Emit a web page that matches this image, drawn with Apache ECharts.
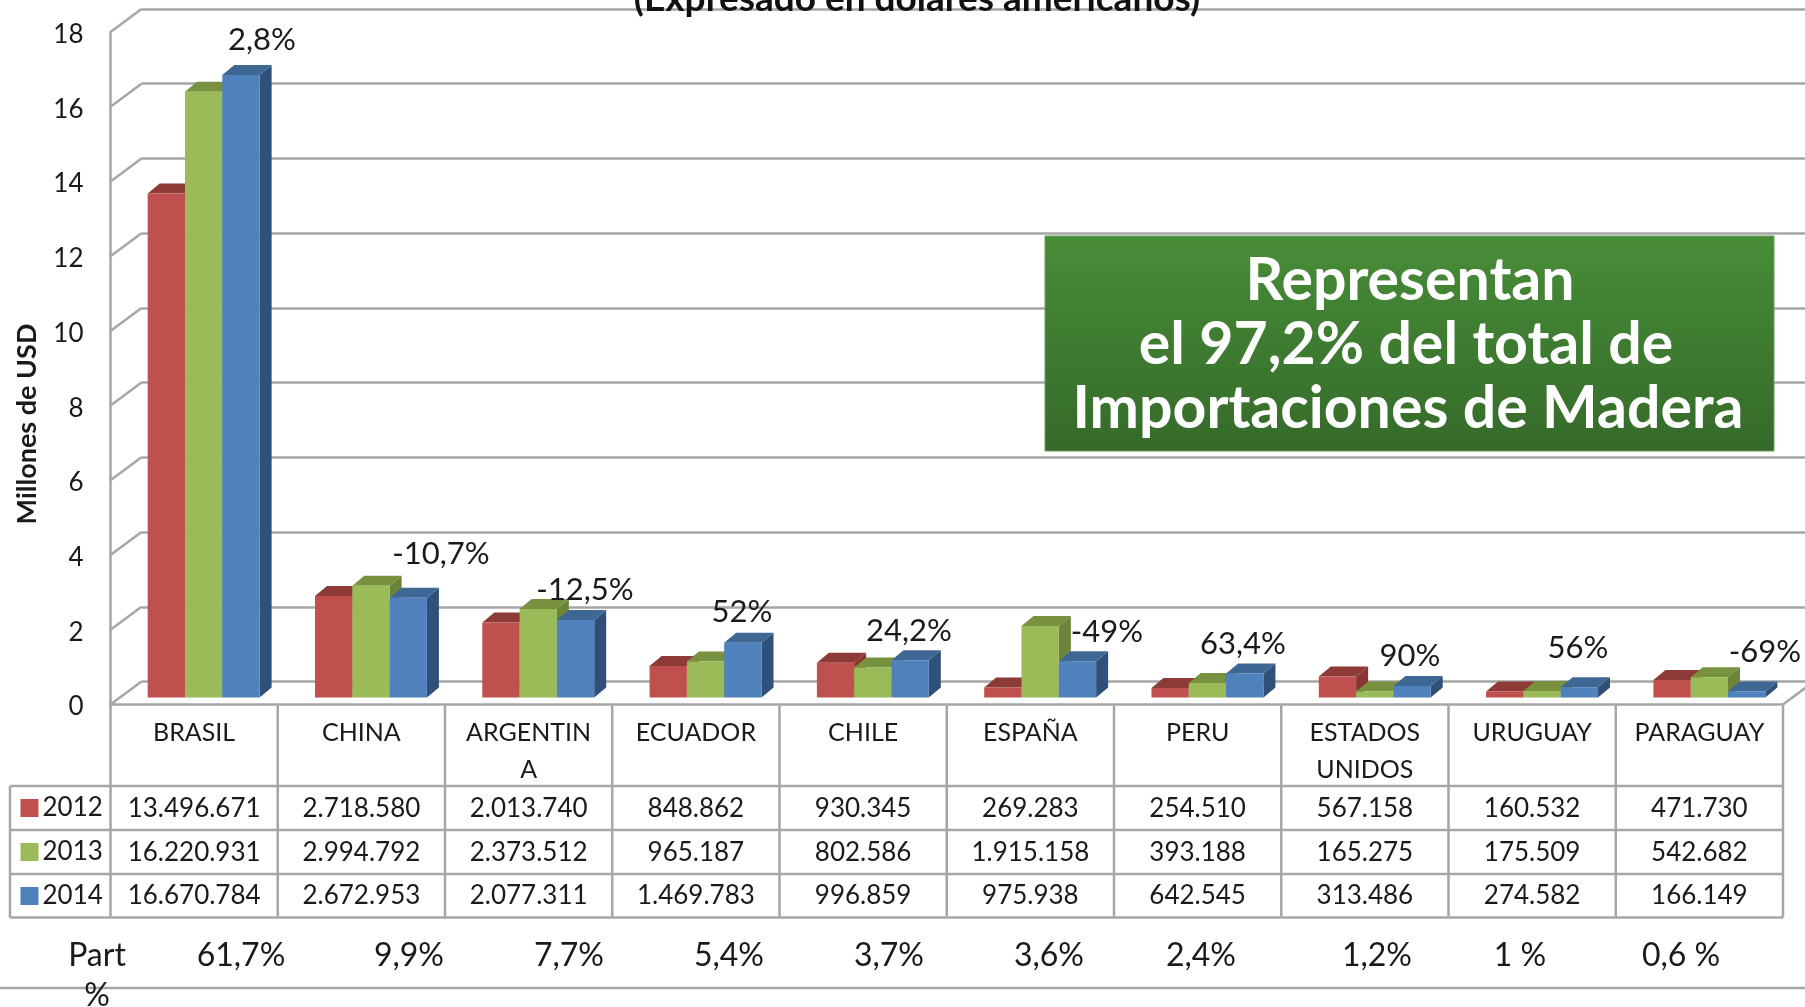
<!DOCTYPE html>
<html><head><meta charset="utf-8">
<style>html,body{margin:0;padding:0;background:#fff}#c{width:1805px;height:1007px}</style>
<script src="https://cdn.jsdelivr.net/npm/echarts@6/dist/echarts.min.js"></script>
</head><body><div id="c"></div>
<script>
const categories = ['BRASIL','CHINA','ARGENTIN\nA','ECUADOR','CHILE','ESPAÑA','PERU','ESTADOS\nUNIDOS','URUGUAY','PARAGUAY'];
const years = ['2012','2013','2014'];
const values2012 = [13496671,2718580,2013740,848862,930345,269283,254510,567158,160532,471730];
const values2013 = [16220931,2994792,2373512,965187,802586,1915158,393188,165275,175509,542682];
const values2014 = [16670784,2672953,2077311,1469783,996859,975938,642545,313486,274582,166149];
const growthLabels = ['2,8%','-10,7%','-12,5%','52%','24,2%','-49%','63,4%','90%','56%','-69%'];
const partLabels = ['61,7%','9,9%','7,7%','5,4%','3,7%','3,6%','2,4%','1,2%','1 %','0,6 %'];
const yTicks = [0,2,4,6,8,10,12,14,16,18];

// layout (pixels)
const growthPos = [[262,40],[441,554],[585,590],[742,612],[909,631],[1107,632],[1243,644],[1410,656],[1578,648],[1765,652]];
const partX = [241,409,569,729,889,1049,1201,1377,1520,1681];
const FONT = 'Lato';
const GRID = '#a6a6a6';
const palette = [
  {front:'#c0504d',top:'#8e3a37',side:'#8a3532'},
  {front:'#9bbb59',top:'#77913f',side:'#6c8439'},
  {front:'#4f81bd',top:'#3e6794',side:'#2f5079'}
];
const seriesValues = [values2012,values2013,values2014];
const rowY = [808.5,852.5,896];
const rowLineY = [704.5,786,830,874,917.5];
const wallDX = 31, wallDY = -23;
const barDepthX = 12, barDepthY = -10;
const barRatio = 0.223;

const fmt = v => String(v).replace(/\B(?=(\d{3})+$)/g,'.');

function barSeries(s){
  return {
    type:'custom', name:years[s], coordinateSystem:'cartesian2d', xAxisIndex:2, yAxisIndex:2,
    clip:false, z:5, silent:true,
    itemStyle:{color:palette[s].front},
    encode:{x:0,y:1},
    data:seriesValues[s].map((v,i)=>[i,v/1e6]),
    renderItem(params,api){
      const base=api.coord([api.value(0),0]), tip=api.coord([api.value(0),api.value(1)]);
      const w=api.size([1,0])[0]*barRatio;
      const x0=base[0]+(s-1.5)*w, x1=x0+w, yb=base[1], yt=tip[1];
      const c=palette[s], d=barDepthX, e=barDepthY;
      return {type:'group',children:[
        {type:'polygon',shape:{points:[[x1,yt],[x1+d,yt+e],[x1+d,yb+e],[x1,yb]]},style:{fill:c.side}},
        {type:'polygon',shape:{points:[[x0,yt],[x0+d,yt+e],[x1+d,yt+e],[x1,yt]]},style:{fill:c.top}},
        {type:'rect',shape:{x:x0,y:yt,width:w,height:yb-yt},style:{fill:c.front}}
      ]};
    }
  };
}
function tableTextSeries(s){
  return {
    type:'custom', coordinateSystem:'cartesian2d', xAxisIndex:0, yAxisIndex:0, clip:false, z:6, silent:true,
    encode:{x:0,y:1}, legendHoverLink:false,
    data:seriesValues[s].map((v,i)=>[i,0,v]),
    renderItem(params,api){
      const p=api.coord([api.value(0),0]);
      return {type:'text',style:{text:fmt(api.value(2)),x:p[0],y:rowY[s],align:'center',verticalAlign:'middle',
        fontFamily:FONT,fontSize:26,fill:'#1a1a1a'}};
    }
  };
}
const wallSeries = {
  type:'custom', coordinateSystem:'cartesian2d', xAxisIndex:0, yAxisIndex:0, clip:false, z:1, silent:true,
  encode:{x:0,y:1},
  data:yTicks.map(t=>[0,t]),
  renderItem(params,api){
    const p=api.coord([0,api.value(1)]);
    const x=p[0]-api.size([1,0])[0]/2;
    return {type:'line',shape:{x1:x,y1:p[1],x2:x+wallDX,y2:p[1]+wallDY},style:{stroke:GRID,lineWidth:2.5}};
  }
};
const tableLines = {
  type:'custom', coordinateSystem:'cartesian2d', xAxisIndex:0, yAxisIndex:0, clip:false, z:2, silent:true,
  encode:{x:0,y:1},
  data:categories.map((c,i)=>[i,0]),
  renderItem(params,api){
    const i=api.value(0), p=api.coord([i,0]), w=api.size([1,0])[0];
    const l=p[0]-w/2, r=p[0]+w/2, st={stroke:GRID,lineWidth:2.5}, ch=[];
    rowLineY.forEach((y,k)=>ch.push({type:'line',shape:{x1:l,y1:y,x2:r,y2:y},style:st}));
    ch.push({type:'line',shape:{x1:r,y1:rowLineY[0],x2:r,y2:rowLineY[4]},style:st});
    if(i===0){
      ch.push({type:'line',shape:{x1:l,y1:rowLineY[0],x2:l,y2:rowLineY[4]},style:st});
      rowLineY.slice(1).forEach(y=>ch.push({type:'line',shape:{x1:10,y1:y,x2:l,y2:y},style:st}));
      ch.push({type:'line',shape:{x1:10,y1:rowLineY[1],x2:10,y2:rowLineY[4]},style:st});
    }
    if(i===categories.length-1){
      ch.push({type:'line',shape:{x1:r,y1:rowLineY[0],x2:r+wallDX,y2:rowLineY[0]+wallDY},style:st});
    }
    return {type:'group',children:ch};
  }
};

const graphics = [
  {type:'text',z:10,style:{text:'(Expresado en dólares americanos)',x:917,y:-1,align:'center',verticalAlign:'middle',fontFamily:FONT,fontWeight:'bold',fontSize:37,fill:'#111'}},
  {type:'text',rotation:Math.PI/2,x:27,y:424,style:{text:'Millones de USD',align:'center',verticalAlign:'middle',fontFamily:FONT,fontWeight:'bold',fontSize:27,fill:'#1a1a1a'}},
  {type:'line',shape:{x1:0,y1:988,x2:1805,y2:988},style:{stroke:GRID,lineWidth:2.5},z:1},
  {type:'rect',shape:{x:1045,y:236,width:729,height:215},z:20,
    style:{fill:new echarts.graphic.LinearGradient(0,0,0,1,[{offset:0,color:'#488d38'},{offset:1,color:'#356a2a'}]),stroke:'#6a9f5c',lineWidth:1}},
  {type:'text',z:21,style:{text:'Representan',x:1410,y:281,align:'center',verticalAlign:'middle',fontFamily:FONT,fontWeight:'bold',fontSize:59,fill:'#fff'}},
  {type:'text',z:21,style:{text:'el 97,2% del total de',x:1406,y:345,align:'center',verticalAlign:'middle',fontFamily:FONT,fontWeight:'bold',fontSize:59,fill:'#fff'}},
  {type:'text',z:21,style:{text:'Importaciones de Madera',x:1408,y:409,align:'center',verticalAlign:'middle',fontFamily:FONT,fontWeight:'bold',fontSize:59,fill:'#fff'}},
  {type:'text',z:10,style:{text:'Part',x:97,y:956,align:'center',verticalAlign:'middle',fontFamily:FONT,fontSize:32,fill:'#1a1a1a'}},
  {type:'text',z:10,style:{text:'%',x:97,y:996,align:'center',verticalAlign:'middle',fontFamily:FONT,fontSize:32,fill:'#1a1a1a'}}
];
growthLabels.forEach((t,i)=>graphics.push({type:'text',z:10,style:{text:t,x:growthPos[i][0],y:growthPos[i][1],align:'center',verticalAlign:'middle',fontFamily:FONT,fontSize:31,fill:'#1a1a1a'}}));
partLabels.forEach((t,i)=>graphics.push({type:'text',z:10,style:{text:t,x:partX[i],y:956,align:'center',verticalAlign:'middle',fontFamily:FONT,fontSize:32,fill:'#1a1a1a'}}));

const chart = echarts.init(document.getElementById('c'),null,{renderer:'canvas'});
chart.setOption({
  animation:false,
  backgroundColor:'#fff',
  legend:{data:years,orient:'vertical',left:15.5,top:790,itemWidth:18,itemHeight:18,itemGap:18,icon:'rect',selectedMode:false,
    textStyle:{fontFamily:FONT,fontSize:26,color:'#1a1a1a',padding:[0,0,0,-1]}},
  grid:[
    {left:110.5,top:32,width:1672.5,height:672.5},
    {left:141.5,top:9,width:1680,height:672.5},
    {left:120,top:25.3,width:1673,height:672.3},
    {left:110.5,top:34.5,width:1672.5,height:672.5}
  ],
  xAxis:[
    {gridIndex:0,type:'category',data:categories,axisLine:{show:false},axisTick:{show:false},
      axisLabel:{interval:0,margin:10,verticalAlign:'top',lineHeight:37,fontFamily:FONT,fontSize:25,color:'#1a1a1a',hideOverlap:false}},
    {gridIndex:1,type:'category',data:categories,show:false},
    {gridIndex:2,type:'category',data:categories,show:false},
    {gridIndex:3,type:'category',data:categories,show:false}
  ],
  yAxis:[
    {gridIndex:0,type:'value',min:0,max:18,interval:2,splitLine:{show:false},axisTick:{show:false},axisLabel:{show:false},
      axisLine:{show:true,lineStyle:{color:GRID,width:2.5}}},
    {gridIndex:1,type:'value',min:0,max:18,interval:2,axisLine:{show:false},axisTick:{show:false},axisLabel:{show:false},
      splitLine:{show:true,lineStyle:{color:GRID,width:2.5}}},
    {gridIndex:2,type:'value',min:0,max:18,interval:2,show:false,splitLine:{show:false}},
    {gridIndex:3,type:'value',min:0,max:18,interval:2,splitLine:{show:false},axisTick:{show:false},axisLine:{show:false},
      axisLabel:{margin:27,fontFamily:FONT,fontSize:26,color:'#1a1a1a'}}
  ],
  graphic:graphics,
  series:[wallSeries,tableLines,barSeries(0),barSeries(1),barSeries(2),tableTextSeries(0),tableTextSeries(1),tableTextSeries(2)]
});
</script></body></html>
